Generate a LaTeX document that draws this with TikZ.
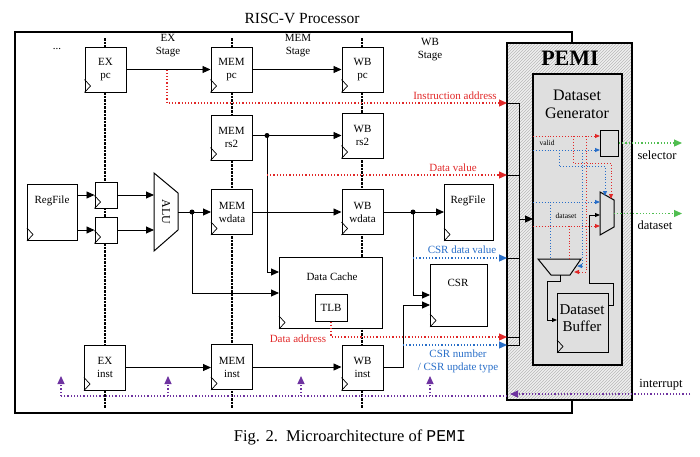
\documentclass[tikz,border=0pt]{standalone}
\usepackage{fontspec}
\setmainfont{Liberation Serif}
\setmonofont{Liberation Mono}
\usetikzlibrary{arrows.meta,patterns,calc}
\definecolor{rd}{RGB}{225,40,40}
\definecolor{bl}{RGB}{40,110,200}
\definecolor{gr}{RGB}{80,190,80}
\definecolor{pu}{RGB}{110,50,160}
\tikzset{
 reg/.style={draw,line width=1pt,fill=white,inner sep=0pt,align=center,font=\fontsize{11}{13}\selectfont,minimum width=41pt,minimum height=45pt},
 box/.style={draw,line width=1pt,fill=white,inner sep=0pt},
 arr/.style={line width=0.9pt,-{Triangle[length=8pt,width=7pt]}},
 ln/.style={line width=0.9pt},
 rdot/.style={rd,dotted,line width=1.2pt},
 bdot/.style={bl,dotted,line width=1.2pt},
 rarr/.style={rdot,-{Triangle[length=8pt,width=7pt]}},
 barr/.style={bdot,-{Triangle[length=8pt,width=7pt]}},
 sarr/.style={-{Triangle[length=5pt,width=4pt]}},
 stage/.style={densely dotted,line width=2.6pt},
 lbl/.style={font=\fontsize{11}{13}\selectfont,align=center,inner sep=0pt},
 sm/.style={font=\fontsize{7.5}{8}\selectfont,inner sep=0.5pt},
}
\begin{document}
\begin{tikzpicture}[x=1pt,y=-1pt]
\useasboundingbox (0,0) rectangle (700,456);
\node[font=\fontsize{15.5}{18}\selectfont] (title) at (302,18) {RISC-V Processor};
\draw[line width=1.4pt] (15,32) rectangle (572,413);
% stage lines
\foreach \x in {105,232,362} \draw[stage] (\x,38) -- (\x,408);
\node[lbl] (dots) at (57,49) {...};
\node[lbl] (exs) at (168,46) {EX\\Stage};
\node[lbl] (mems) at (298,46) {MEM\\Stage};
\node[lbl] (wbs) at (430,50) {WB\\Stage};
% registers
\node[reg] (expc) at (105.5,69.5) {EX\\pc};
\node[reg] (mempc) at (231.5,69.5) {MEM\\pc};
\node[reg] (wbpc) at (362.5,69.5) {WB\\pc};
\node[reg] (memrs) at (231.5,137.5) {MEM\\rs2};
\node[reg] (wbrs) at (362.5,135.5) {WB\\rs2};
\node[reg] (memwd) at (232,212) {MEM\\wdata};
\node[reg] (wbwd) at (362.5,212) {WB\\wdata};
\node[reg] (exin) at (105,367.5) {EX\\inst};
\node[reg] (memin) at (232,367) {MEM\\inst};
\node[reg] (wbin) at (362.5,367.5) {WB\\inst};
\node[reg,minimum width=50pt,minimum height=56pt,anchor=north west] (rf1) at (27,184) {};
\node[lbl] at (52,201) {RegFile};
\node[reg,minimum width=22pt,minimum height=26pt] (ra) at (106,195) {};
\node[reg,minimum width=22pt,minimum height=26pt] (rb) at (106,230) {};
\node[reg,minimum width=49pt,minimum height=56pt,anchor=north west] (rf2) at (444,184) {};
\node[lbl] at (468,201) {RegFile};
\node[reg,minimum width=103pt,minimum height=71pt,anchor=north west] (dc) at (279,257) {};
\node[lbl] at (332,277) {Data Cache};
\node[reg,minimum width=32pt,minimum height=27pt] (tlb) at (331,307.5) {TLB};
\node[reg,minimum width=57pt,minimum height=62pt,anchor=north west] (csr) at (430,264) {};
\node[lbl] at (458,283) {CSR};
\foreach \n in {expc,mempc,wbpc,memrs,wbrs,memwd,wbwd,exin,memin,wbin,rf1,ra,rb,rf2,dc,csr}
  \draw[line width=0.7pt] ([yshift=13pt]\n.south west) -- ++(6,6.5) -- ++(-6,6.5);
% ALU
\draw[line width=1pt,fill=white] (154,173) -- (178,193) -- (178,230) -- (154,251) -- cycle;
\node[lbl,rotate=-90,font=\fontsize{12}{14}\selectfont] (alu) at (166,212) {ALU};
\coordinate (aluout) at (178,212);
% connections
\draw[arr] (expc.east) -- (mempc.west);
\draw[arr] (mempc.east) -- (wbpc.west);
\draw[arr] (memrs.east|-wbrs.west) -- (wbrs.west);
\draw[arr] (rf1.east|-ra) -- (ra.west);
\draw[arr] (rf1.east|-rb) -- (rb.west);
\draw[arr] (ra.east) -- (154,195);
\draw[arr] (rb.east) -- (154,230);
\draw[arr] (aluout) -- (memwd.west);
\fill (192,212) circle (2.5pt);
\draw[arr] (192,212) -- (192,293) -- (dc.west|-0,293);
\fill (267,135.5) circle (2.5pt);
\draw[arr] (267,135.5) -- (267,272) -- (dc.west|-0,272);
\draw[arr] (memwd.east) -- (wbwd.west);
\draw[arr] (wbwd.east) -- (rf2.west|-wbwd.east);
\fill (413,212) circle (2.5pt);
\draw[arr] (413,212) -- (413,295) -- (csr.west|-0,295);
\draw[arr] (wbin.east) -- (403,367.5) -- (403,305) -- (csr.west|-0,305);
\draw[arr] (exin.east) -- (memin.west|-exin.east);
\draw[arr] (memin.east) -- (wbin.west|-memin.east);
% PEMI
\draw[line width=1.4pt,fill=gray!12] (507,43) rectangle (632,400);
\fill[pattern=north east lines,pattern color=gray!55] (507,43) rectangle (632,400);
\draw[line width=1.6pt] (507,43) rectangle (632,400);
\node[font=\bfseries\fontsize{22}{24}\selectfont] (pemi) at (570,58) {PEMI};
\draw[line width=1.2pt,fill=gray!25] (533,74) rectangle (622,365);
\node[lbl,font=\fontsize{16}{18}\selectfont] (dg) at (577,104) {Dataset\\Generator};
\node[box,minimum width=18pt,minimum height=26pt,anchor=north west,fill=gray!25] (sel) at (600,130) {};
\draw[line width=1pt,fill=gray!25] (600,192) -- (614,200) -- (614,227) -- (600,235) -- cycle;
\coordinate (muxo) at (614,213.5);
\draw[line width=1pt,fill=gray!25] (538,259) -- (581,259) -- (570,275) -- (551,275) -- cycle;
\node[reg,minimum width=51pt,minimum height=59pt,anchor=north west,fill=gray!25] (buf) at (557,293) {};
\node[lbl,font=\fontsize{15}{17}\selectfont] at (582,318) {Dataset\\Buffer};
\draw[line width=0.7pt] ([yshift=13pt]buf.south west) -- ++(6,6.5) -- ++(-6,6.5);
\draw[ln,sarr] (560,275) -- (560,281) -- (547,281) -- (547,320) -- (buf.west|-0,320);
\draw[ln,sarr] (buf.east|-0,305) -- (613,305) -- (613,283) -- (589,283) -- (589,215) -- (600,215);
% red/blue internal
\draw[rdot,line width=0.9pt,-{Triangle[length=5pt,width=4pt]}] (533,136) -- (sel.west|-0,136);
\draw[bdot,line width=0.9pt,-{Triangle[length=5pt,width=4pt]}] (533,150) -- (sel.west|-0,150);
\node[sm] at (547,143) {valid};
\draw[rdot,line width=0.9pt,-{Triangle[length=5pt,width=4pt]}] (573,136) -- (573,163) -- (611,163) -- (611,199);
\draw[bdot,line width=0.9pt,-{Triangle[length=5pt,width=4pt]}] (559,150) -- (559,166) -- (605,166) -- (605,196);
\draw[rdot,line width=0.9pt,-{Triangle[length=5pt,width=4pt]}] (586,136) -- (586,272) -- (574,272);
\draw[bdot,line width=0.9pt,-{Triangle[length=5pt,width=4pt]}] (582,150) -- (582,266) -- (577,266);
\draw[bdot,line width=0.9pt,-{Triangle[length=5pt,width=4pt]}] (533,202) -- (600,202);
\draw[rdot,line width=0.9pt,-{Triangle[length=5pt,width=4pt]}] (533,226) -- (600,226);
\node[sm,fill=gray!25] at (566,216) {dataset};
\draw[bdot,line width=0.9pt] (550,202) -- (550,259);
\draw[rdot,line width=0.9pt] (569,226) -- (569,259);
% bus to PEMI
\draw[ln] (507,103) -- (519,103) -- (519,345) -- (507,345);
\draw[ln] (507,175) -- (519,175);
\draw[ln] (507,258) -- (519,258);
\draw[ln] (507,337) -- (519,337);
\draw[arr] (519,219) -- (533,219);
% red / blue signals to PEMI
\draw[rarr] (167,69.5) -- (167,103) -- (507,103);
\node[lbl,text=rd] at (455,96) {Instruction address};
\draw[rarr] (267,175) -- (507,175);
\node[lbl,text=rd] at (453,168) {Data value};
\draw[barr] (413,258) -- (507,258);
\node[lbl,text=bl] at (462,250) {CSR data value};
\draw[rarr] (tlb.south) -- (331,337) -- (507,337);
\node[lbl,text=rd] at (298,339) {Data address};
\draw[barr] (403,345) -- (507,345);
\node[lbl,text=bl] at (458,361) {CSR number\\/ CSR update type};
% green outputs
\draw[gr,dotted,line width=1.2pt,-{Triangle[length=8pt,width=7pt]}] (sel.east|-0,143) -- (682,143);
\node[lbl,font=\fontsize{12.5}{14}\selectfont] at (657,155) {selector};
\draw[gr,dotted,line width=1.2pt,-{Triangle[length=8pt,width=7pt]}] (muxo) -- (682,213.5);
\node[lbl,font=\fontsize{12.5}{14}\selectfont] at (655,225) {dataset};
% interrupt
\draw[pu,dotted,line width=1.2pt,-{Triangle[length=8pt,width=7pt]}] (690,394) -- (510,394);
\node[lbl,font=\fontsize{12.5}{14}\selectfont] at (661,385) {interrupt};
\draw[pu,dotted,line width=1.2pt] (507,396) -- (60,396);
\foreach \x in {61,168,301,430}
  \draw[pu,dotted,line width=1.2pt,-{Triangle[length=8pt,width=7pt]}] (\x,396) -- (\x,376);
% caption
\node[font=\fontsize{16.5}{19}\selectfont] (cap) at (350,437) {Fig. 2.\ \ Microarchitecture of \texttt{PEMI}};
\end{tikzpicture}
\end{document}
